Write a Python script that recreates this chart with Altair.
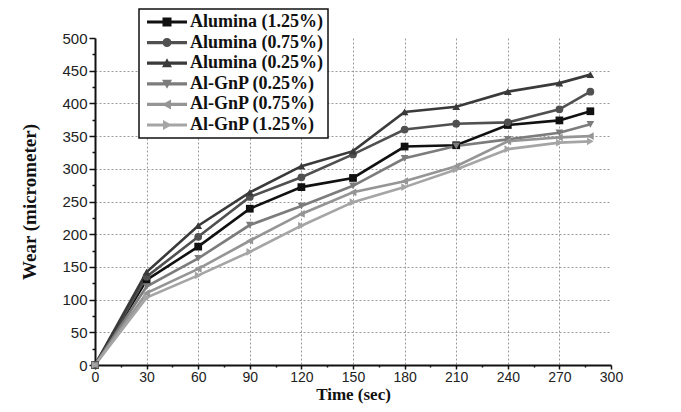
import altair as alt
import pandas as pd

times = [0, 30, 60, 90, 120, 150, 180, 210, 240, 270, 288]
series = ["Alumina (1.25%)", "Alumina (0.75%)", "Alumina (0.25%)",
          "Al-GnP (0.25%)", "Al-GnP (0.75%)", "Al-GnP (1.25%)"]
alumina_125 = [0, 130, 181, 239, 272, 286, 334, 336, 367, 374, 388]
alumina_075 = [0, 135, 196, 257, 287, 322, 360, 369, 371, 391, 418]
alumina_025 = [0, 142, 213, 264, 304, 327, 387, 395, 418, 431, 444]
algnp_025 = [0, 120, 163, 214, 243, 274, 316, 335, 345, 355, 368]
algnp_075 = [0, 110, 147, 190, 231, 264, 281, 304, 342, 348, 350]
algnp_125 = [0, 103, 137, 173, 213, 249, 272, 299, 330, 340, 342]
values = [alumina_125, alumina_075, alumina_025, algnp_025, algnp_075, algnp_125]

colors = ["#111111", "#505050", "#3a3a3a", "#7c7c7c", "#959595", "#a5a5a5"]
shapes = ["square", "circle", "triangle-up", "triangle-down", "triangle-left", "triangle-right"]

bar = "M-4 -0.32 L4 -0.32 L4 0.32 L-4 0.32 Z "
legend_shapes = [
    bar + "M-0.9 -0.9 L0.9 -0.9 L0.9 0.9 L-0.9 0.9 Z",
    bar + "M-0.9 0 A0.9 0.9 0 1 1 0.9 0 A0.9 0.9 0 1 1 -0.9 0 Z",
    bar + "M0 -1 L1 0.8 L-1 0.8 Z",
    bar + "M0 1 L-1 -0.8 L1 -0.8 Z",
    bar + "M-1 0 L0.8 -1 L0.8 1 Z",
    bar + "M1 0 L-0.8 1 L-0.8 -1 Z",
]

rows = []
for name, vals in zip(series, values):
    for t, v in zip(times, vals):
        rows.append({"series": name, "time": t, "wear": v})
df = pd.DataFrame(rows)

x = alt.X(
    "time:Q",
    title="Time (sec)",
    scale=alt.Scale(domain=[0, 300], nice=False, zero=False),
    axis=alt.Axis(
        values=list(range(0, 301, 15)),
        labelExpr="datum.value % 30 === 0 ? datum.label : ''",
        labelOverlap=False,
        labelFlush=False,
        tickSize={"condition": {"test": "datum.value % 30 === 0", "value": 4}, "value": 2},
        gridOpacity={"condition": {"test": "datum.value % 30 === 0 && datum.value > 0 && datum.value < 300", "value": 1}, "value": 0},
    ),
)
y = alt.Y(
    "wear:Q",
    title="Wear (micrometer)",
    scale=alt.Scale(domain=[0, 500], nice=False),
    axis=alt.Axis(
        values=list(range(0, 501, 25)),
        labelExpr="datum.value % 50 === 0 ? datum.label : ''",
        labelOverlap=False,
        labelFlush=False,
        tickSize={"condition": {"test": "datum.value % 50 === 0", "value": 6}, "value": 3},
        gridOpacity={"condition": {"test": "datum.value % 50 === 0 && datum.value > 0 && datum.value < 500", "value": 1}, "value": 0},
    ),
)

color_plain = alt.Color("series:N", scale=alt.Scale(domain=series, range=colors), legend=None)

lines = alt.Chart(df).mark_line(strokeWidth=2.6).encode(x=x, y=y, color=color_plain)
points = alt.Chart(df).mark_point(filled=True, size=60, opacity=1).encode(
    x=x, y=y, color=color_plain,
    shape=alt.Shape("series:N", scale=alt.Scale(domain=series, range=shapes), legend=None),
)
legend_layer = alt.Chart(df).transform_filter("false").mark_point(filled=True, opacity=1, strokeWidth=0).encode(
    x=x, y=y,
    color=alt.Color("series:N", scale=alt.Scale(domain=series, range=colors), legend=alt.Legend(title=None)),
    shape=alt.Shape("series:N", scale=alt.Scale(domain=series, range=legend_shapes), legend=alt.Legend(title=None)),
)

chart = (
    alt.layer(lines, points, legend_layer)
    .resolve_scale(color="independent", shape="independent")
    .properties(
        width=516, height=327,
        padding={"left": 87, "top": 30, "right": 62, "bottom": 39},
        autosize=alt.AutoSizeParams(type="none"),
        background="white",
    )
    .configure_view(stroke=None)
    .configure_axis(
        domainColor="#111111", domainWidth=2,
        tickColor="#111111", tickWidth=1.5,
        labelFont="Liberation Sans", labelFontSize=15, labelColor="#222222", labelPadding=2,
        titleFont="Liberation Serif", titleFontWeight="bold", titleFontSize=19, titleColor="#111111",
        gridColor="#9a9a9a", gridDash=[2, 2], gridWidth=1,
    )
    .configure_axisX(titlePadding=2, titleFontSize=17, labelFontSize=14, labelPadding=1)
    .configure_axisY(titlePadding=22)
    .configure_legend(
        orient="none", legendX=44, legendY=-29,
        strokeColor="#111111", strokeWidth=1.5, fillColor="white", padding=4,
        labelFont="Liberation Serif", labelFontWeight="bold", labelFontSize=18, labelColor="#111111",
        symbolSize=100, symbolOffset=15, labelOffset=14, rowPadding=2.6, labelLimit=300,
    )
)

chart.save("out.html", embed_options={"renderer": "svg", "actions": False})
